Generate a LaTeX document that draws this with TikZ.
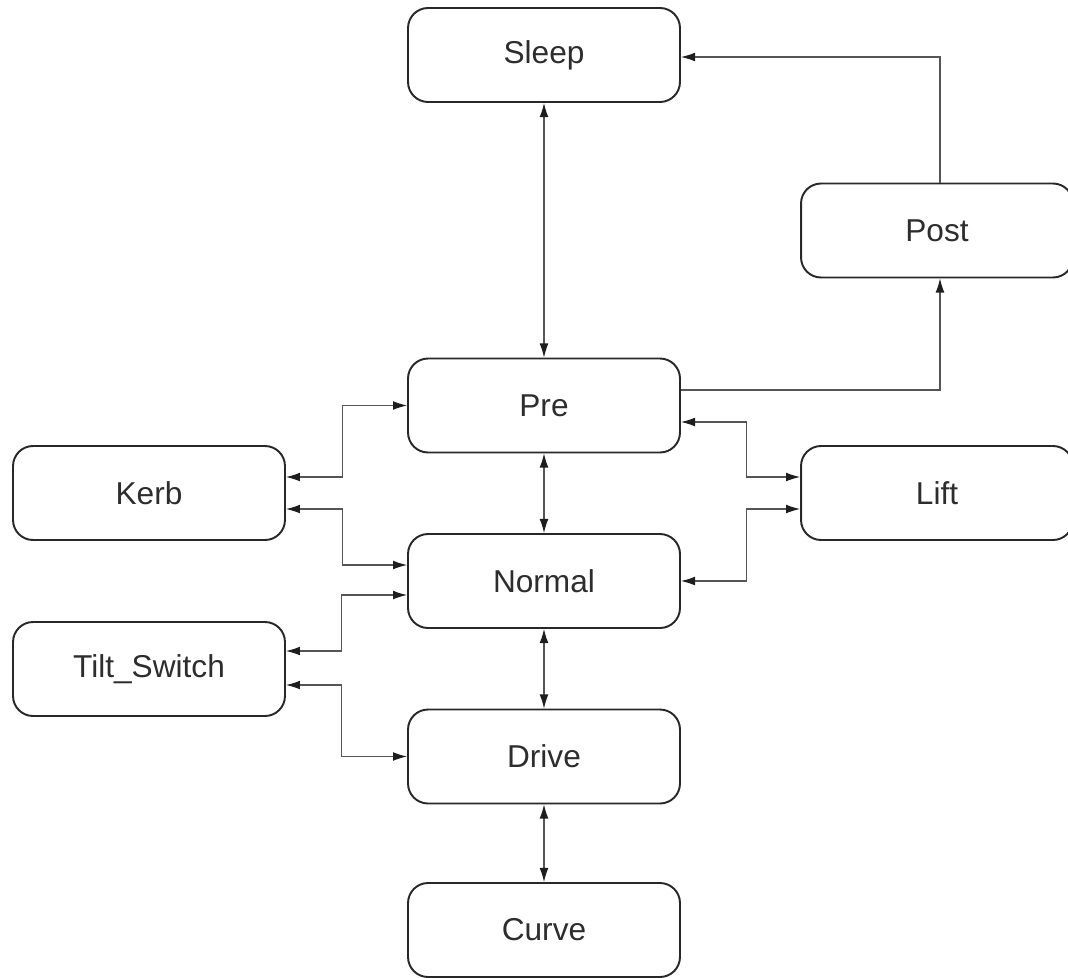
\documentclass[tikz,border=0pt]{standalone}
\usepackage{fontspec}
\setmainfont{Liberation Sans}
\usetikzlibrary{calc,arrows.meta}
\definecolor{boxline}{RGB}{40,40,40}
\definecolor{connline}{RGB}{85,85,85}
\definecolor{tipcol}{RGB}{30,30,30}
\definecolor{txt}{RGB}{45,45,45}
\begin{document}
\begin{tikzpicture}[x=0.02cm,y=-0.02cm,
  state/.style={draw=boxline,line width=1.1pt,rounded corners=0.4cm,
    minimum width=5.44cm,minimum height=1.88cm,inner sep=0pt,
    text=txt,font=\fontsize{18}{22}\selectfont},
  sidebox/.style={state,minimum width=5.44cm},
  conn/.style={draw=connline,line width=0.6pt,
    {Latex[length=8pt,width=5pt,color=tipcol]}-{Latex[length=8pt,width=5pt,color=tipcol]}},
  conn1/.style={draw=connline,line width=0.6pt,-{Latex[length=8pt,width=5pt,color=tipcol]}}]
\useasboundingbox (0,0) rectangle (1068,977);
\clip (0,0) rectangle (1068,977);
\node[state] (Sleep) at (544,55) {Sleep};
\node[state] (Post) at (937,230.5) {Post};
\node[state] (Pre) at (544,405.5) {Pre};
\node[sidebox] (Kerb) at (149,493) {Kerb};
\node[state] (Lift) at (937,493) {Lift};
\node[state] (Normal) at (544,581) {Normal};
\node[sidebox] (Tilt) at (149,669) {Tilt\_Switch};
\node[state] (Drive) at (544,756.5) {Drive};
\node[state] (Curve) at (544,930) {Curve};
% vertical chain
\draw[conn] (Sleep.south) -- (Pre.north);
\draw[conn] (Pre.south) -- (Normal.north);
\draw[conn] (Normal.south) -- (Drive.north);
\draw[conn] (Drive.south) -- (Curve.north);
% Pre -> Post -> Sleep
\draw[conn1] ($(Pre.east)+(0,-15.5)$) -| ($(Post.south)+(3,0)$);
\draw[conn1] ($(Post.north)+(3,0)$) |- ($(Sleep.east)+(0,2)$);
% Kerb
\draw[conn] ($(Kerb.east)+(0,-16)$) -| ($(Pre.west)+(-65,0)$) -- (Pre.west);
\draw[conn] ($(Kerb.east)+(0,16)$) -| ($(Normal.west)+(-65,-16)$) -- ($(Normal.west)+(0,-16)$);
% Tilt_Switch
\draw[conn] ($(Tilt.east)+(0,-18)$) -| ($(Normal.west)+(-66,14)$) -- ($(Normal.west)+(0,14)$);
\draw[conn] ($(Tilt.east)+(0,16)$) -| ($(Drive.west)+(-66,0)$) -- (Drive.west);
% Lift
\draw[conn] ($(Lift.west)+(0,-16)$) -| ($(Pre.east)+(66,16.5)$) -- ($(Pre.east)+(0,16.5)$);
\draw[conn] ($(Lift.west)+(0,16)$) -| ($(Normal.east)+(66,0)$) -- (Normal.east);
\end{tikzpicture}
\end{document}
